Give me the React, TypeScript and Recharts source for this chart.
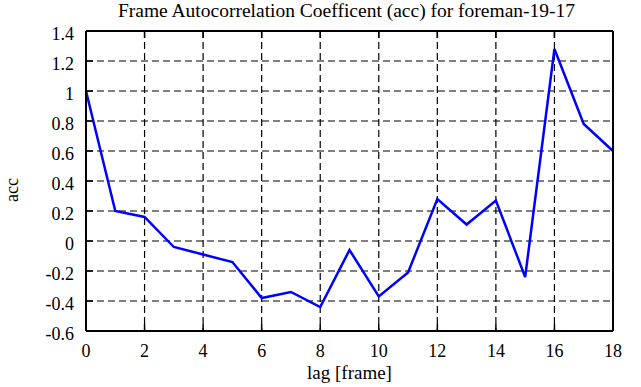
import { LineChart, Line, XAxis, YAxis, CartesianGrid, Label } from "recharts";

// lag index and autocorrelation values
const lags = [0, 1, 2, 3, 4, 5, 6, 7, 8, 9, 10, 11, 12, 13, 14, 15, 16, 17, 18];
const acc = [1.0, 0.2, 0.16, -0.04, -0.09, -0.14, -0.38, -0.34, -0.44, -0.06, -0.37, -0.21, 0.28, 0.11, 0.27, -0.24, 1.28, 0.78, 0.6];

const xTicks = [0, 2, 4, 6, 8, 10, 12, 14, 16, 18];
const yTicks = [-0.6, -0.4, -0.2, 0, 0.2, 0.4, 0.6, 0.8, 1, 1.2, 1.4];

const data = lags.map((lag, i) => ({ lag, acc: acc[i] }));

const FONT = "Liberation Serif";
const TICK_LEN = 7;

// inward tick marks, gnuplot style; labels only on bottom/left
function BottomTick({ x, y, payload }: any) {
  return (
    <g>
      <line x1={x} x2={x} y1={y} y2={y - TICK_LEN} stroke="#000" strokeWidth={1.5} />
      <text x={x} y={y + 26} textAnchor="middle" style={{ fontFamily: FONT, fontSize: 18 }} fill="#000">
        {String(payload.value)}
      </text>
    </g>
  );
}

function TopTick({ x, y }: any) {
  return <line x1={x} x2={x} y1={y} y2={y + TICK_LEN} stroke="#000" strokeWidth={1.5} />;
}

function LeftTick({ x, y, payload }: any) {
  return (
    <g>
      <line x1={x} x2={x + TICK_LEN} y1={y} y2={y} stroke="#000" strokeWidth={1.5} />
      <text x={x - 12} y={y + 8.5} textAnchor="end" style={{ fontFamily: FONT, fontSize: 18 }} fill="#000">
        {String(payload.value)}
      </text>
    </g>
  );
}

function RightTick({ x, y }: any) {
  return <line x1={x} x2={x - TICK_LEN} y1={y} y2={y} stroke="#000" strokeWidth={1.5} />;
}

export default function App() {
  return (
    <div style={{ position: "absolute", left: 0, top: 0, background: "#fff" }}>
      <LineChart width={641} height={387} data={data} margin={{ top: 0, right: 0, bottom: 0, left: 0 }}>
        <CartesianGrid stroke="#000" strokeWidth={1.2} strokeDasharray="7 4" />

        <XAxis
          dataKey="lag"
          type="number"
          domain={[0, 18]}
          ticks={xTicks}
          height={56}
          tickSize={0}
          tickMargin={0}
          tickLine={false}
          axisLine={{ stroke: "#000", strokeWidth: 2 }}
          tick={<BottomTick />}
          interval={0}
        >
          <Label
            content={({ viewBox }: any) => (
              <text
                x={viewBox.x + viewBox.width / 2}
                y={viewBox.y + 48}
                textAnchor="middle"
                style={{ fontFamily: FONT, fontSize: 19 }}
                fill="#000"
              >
                lag [frame]
              </text>
            )}
          />
        </XAxis>
        <XAxis
          xAxisId="top"
          orientation="top"
          type="number"
          domain={[0, 18]}
          ticks={xTicks}
          height={31}
          tickSize={0}
          tickMargin={0}
          tickLine={false}
          axisLine={{ stroke: "#000", strokeWidth: 2 }}
          tick={<TopTick />}
          interval={0}
        >
          <Label
            content={({ viewBox }: any) => (
              <text
                x={viewBox.x + viewBox.width / 2 - 3}
                y={17}
                textAnchor="middle"
                style={{ fontFamily: FONT, fontSize: 19.5 }}
                fill="#000"
              >
                Frame Autocorrelation Coefficent (acc) for foreman-19-17
              </text>
            )}
          />
        </XAxis>

        <YAxis
          type="number"
          domain={[-0.6, 1.4]}
          ticks={yTicks}
          width={86}
          tickSize={0}
          tickMargin={0}
          tickLine={false}
          axisLine={{ stroke: "#000", strokeWidth: 2 }}
          tick={<LeftTick />}
          interval={0}
        >
          <Label
            content={({ viewBox }: any) => {
              const cx = viewBox.x + 18;
              const cy = viewBox.y + viewBox.height / 2 + 9;
              return (
                <text
                  x={cx}
                  y={cy}
                  transform={`rotate(-90 ${cx} ${cy})`}
                  textAnchor="middle"
                  style={{ fontFamily: FONT, fontSize: 18 }}
                  fill="#000"
                >
                  acc
                </text>
              );
            }}
          />
        </YAxis>
        <YAxis
          yAxisId="right"
          orientation="right"
          type="number"
          domain={[-0.6, 1.4]}
          ticks={yTicks}
          width={28}
          tickSize={0}
          tickMargin={0}
          tickLine={false}
          axisLine={{ stroke: "#000", strokeWidth: 2 }}
          tick={<RightTick />}
          interval={0}
        />

        <Line
          type="linear"
          dataKey="acc"
          stroke="#0000ff"
          strokeWidth={2.5}
          dot={false}
          isAnimationActive={false}
        />
      </LineChart>
    </div>
  );
}
